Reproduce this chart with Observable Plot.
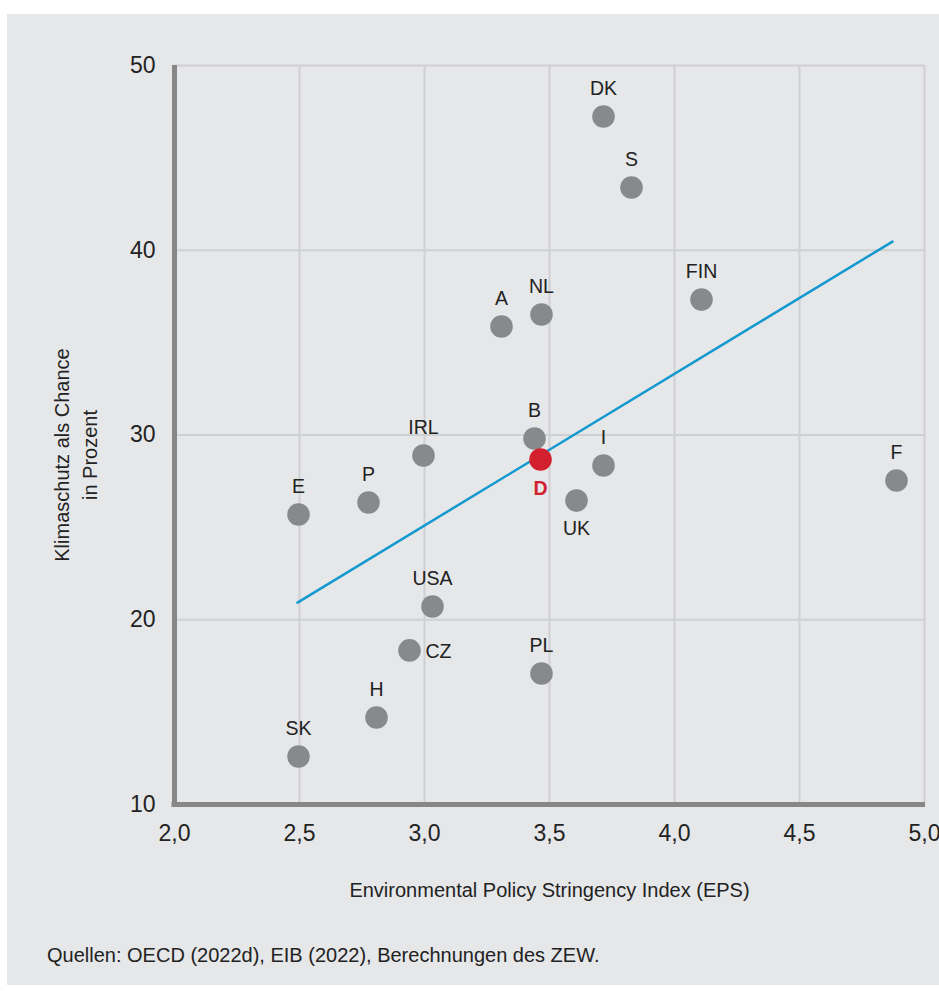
<!DOCTYPE html>
<html>
<head>
<meta charset="utf-8">
<script src="https://cdn.jsdelivr.net/npm/d3@7"></script>
<script src="https://cdn.jsdelivr.net/npm/@observablehq/plot@0.6"></script>
<style>
  html, body { margin: 0; padding: 0; background: #ffffff; }
  #panel { position: absolute; left: 7px; top: 14px; width: 932px; height: 971px; background: #e6e7e9; }
  #caption { position: absolute; left: 40px; top: 930px; font-family: "Liberation Sans Narrow", sans-serif; font-size: 20px; color: #222; }
  svg { font-family: "Liberation Sans Narrow", sans-serif; }
</style>
</head>
<body>
<div id="panel"><div id="chart"></div><div id="caption">Quellen: OECD (2022d), EIB (2022), Berechnungen des ZEW.</div></div>
<script>
const countries = ["DK","S","FIN","NL","A","B","IRL","D","I","F","P","UK","E","USA","CZ","PL","H","SK"];
const eps       = [3.716,3.828,4.108,3.468,3.308,3.44,2.996,3.464,3.716,4.888,2.776,3.608,2.496,3.032,2.94,3.468,2.808,2.496];
const chance    = [47.24,43.40,37.33,36.52,35.87,29.81,28.89,28.67,28.35,27.54,26.35,26.45,25.70,20.72,18.34,17.09,14.71,12.60];
const trendX = [2.492, 4.872];
const trendY = [20.93, 40.47];
const xTicks = [2.0, 2.5, 3.0, 3.5, 4.0, 4.5, 5.0];
const yTicks = [10, 20, 30, 40, 50];
const xLabel = "Environmental Policy Stringency Index (EPS)";
const yLabel = "Klimaschutz als Chance\nin Prozent";

const data = countries.map((c, i) => ({c, x: eps[i], y: chance[i]}));
const trend = trendX.map((x, i) => ({x, y: trendY[i]}));
const labelPos = {CZ: "right", D: "below", UK: "below"};
const above = data.filter(d => !labelPos[d.c]);
const fmt = d => d.toFixed(1).replace(".", ",");

const plot = Plot.plot({
  width: 932,
  height: 900,
  marginLeft: 167,
  marginRight: 15,
  marginTop: 51,
  marginBottom: 110,
  style: {background: "transparent", fontSize: "20px", color: "#222"},
  x: {domain: [2, 5], label: null},
  y: {domain: [10, 50], label: null},
  marks: [
    Plot.gridX(xTicks.slice(1), {stroke: "#cfd0d2", strokeOpacity: 1, strokeWidth: 2}),
    Plot.gridY(yTicks.slice(1), {stroke: "#cfd0d2", strokeOpacity: 1, strokeWidth: 2}),
    Plot.axisX({ticks: xTicks, tickFormat: fmt, tickSize: 0, tickPadding: 20, fontSize: 23, label: null}),
    Plot.axisY({ticks: yTicks, tickSize: 0, tickPadding: 19, fontSize: 23, label: null}),
    Plot.ruleX([2], {y1: 50, y2: 10, stroke: "#878787", strokeWidth: 5, insetBottom: -2.5}),
    Plot.ruleY([10], {x1: 2, x2: 5, stroke: "#878787", strokeWidth: 5, insetLeft: -2.5, insetRight: -1}),
    Plot.line(trend, {x: "x", y: "y", stroke: "#1399cf", strokeWidth: 2.5}),
    Plot.dot(data, {x: "x", y: "y", r: 11.3, fill: d => d.c === "D" ? "#d2202f" : "#88898b", stroke: "none"}),
    Plot.text(above, {x: "x", y: "y", text: "c", dy: -28, fontSize: 19.5, fill: "#222"}),
    Plot.text(data.filter(d => d.c === "CZ"), {x: "x", y: "y", text: "c", dx: 16, dy: 1, textAnchor: "start", fontSize: 19.5, fill: "#222"}),
    Plot.text(data.filter(d => d.c === "UK"), {x: "x", y: "y", text: "c", dy: 28, fontSize: 19.5, fill: "#222"}),
    Plot.text(data.filter(d => d.c === "D"), {x: "x", y: "y", text: "c", dy: 29, fontSize: 19.5, fontWeight: "bold", fill: "#d2202f"}),
    Plot.text([xLabel], {frameAnchor: "bottom", lineAnchor: "middle", dy: 86, fontSize: 20, fill: "#222"}),
    Plot.text([yLabel], {frameAnchor: "left", textAnchor: "middle", dx: -100, dy: 20, rotate: -90, fontSize: 20, fill: "#222", lineHeight: 1.4})
  ]
});
document.getElementById("chart").appendChild(plot);
</script>
</body>
</html>
